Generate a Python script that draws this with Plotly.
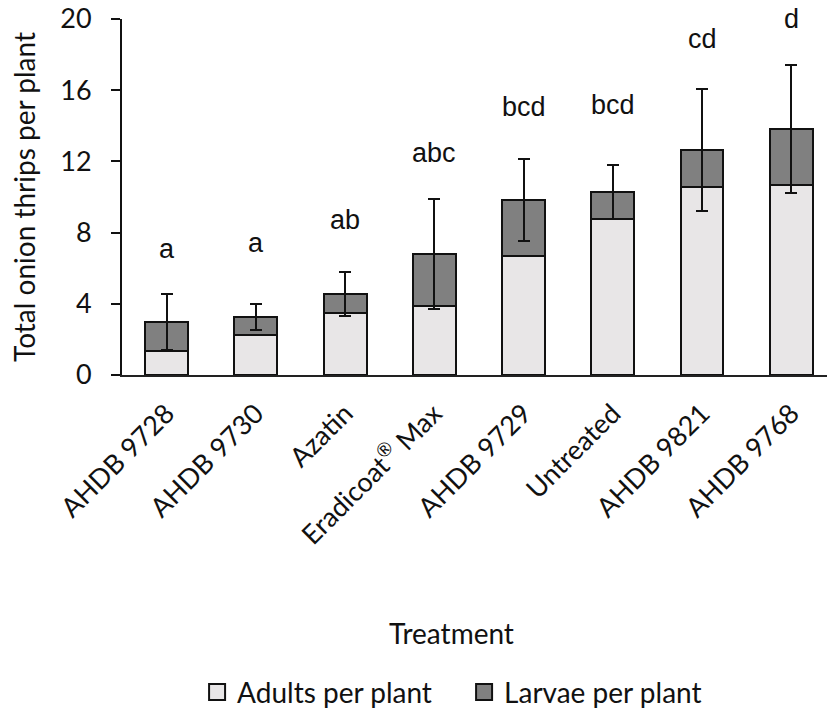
import plotly.graph_objects as go

# Treatments, ordered by total thrips count
treatments = ["AHDB 9728", "AHDB 9730", "Azatin", "Eradicoat<sup>®</sup> Max",
              "AHDB 9729", "Untreated", "AHDB 9821", "AHDB 9768"]

# Mean thrips per plant (stacked: adults at the base, larvae above)
adults = [1.35, 2.22, 3.48, 3.89, 6.67, 8.79, 10.56, 10.67]
larvae = [1.63, 1.04, 1.05, 2.92, 3.16, 1.49, 2.08, 3.14]

# Standard error of the total count
total_err = [1.57, 0.75, 1.23, 3.08, 2.30, 1.53, 3.40, 3.60]

# Significance groupings and the height at which each is written
letters = ["a", "a", "ab", "abc", "bcd", "bcd", "cd", "d"]
letter_y = [7.09, 7.42, 8.70, 12.5, 15.06, 15.18, 18.9, 20.0]

y_ticks = [0, 4, 8, 12, 16, 20]

series_names = ["Adults per plant", "Larvae per plant"]
series_colors = ["#E8E6E7", "#808080"]

label_font = "Lato, 'Open Sans', sans-serif"
letter_font = "'Liberation Sans', Arial, sans-serif"
ink = "#111111"

fig = go.Figure()
fig.add_trace(go.Bar(
    x=treatments, y=adults, name=series_names[0], showlegend=False,
    marker=dict(color=series_colors[0], line=dict(color=ink, width=2)),
))
fig.add_trace(go.Bar(
    x=treatments, y=larvae, name=series_names[1], showlegend=False,
    marker=dict(color=series_colors[1], line=dict(color=ink, width=2)),
    error_y=dict(type="data", array=total_err, color=ink,
                 thickness=2, width=6),
))

# Legend keys: square swatches with a dark outline
for name, col in zip(series_names, series_colors):
    fig.add_trace(go.Scatter(
        x=[None], y=[None], mode="markers", name=name,
        marker=dict(symbol="square", size=20, color=col,
                    line=dict(color=ink, width=2)),
    ))

for t, lab, ly in zip(treatments, letters, letter_y):
    fig.add_annotation(x=t, y=ly, text=lab, showarrow=False,
                       xanchor="center", yanchor="middle",
                       font=dict(family=letter_font, size=27, color=ink))

# x-axis title, centred under the labels
fig.add_annotation(xref="paper", yref="paper", x=0.467, y=-0.725,
                   text="Treatment", showarrow=False,
                   xanchor="center", yanchor="middle",
                   font=dict(family=label_font, size=28, color=ink))

fig.update_layout(
    width=827, height=718,
    margin=dict(l=122, r=0, t=19, b=339),
    paper_bgcolor="white", plot_bgcolor="white",
    barmode="stack", bargap=0.52,
    showlegend=True,
    legend=dict(orientation="h", x=0.1065, xanchor="left",
                y=-0.891, yanchor="middle", itemsizing="trace",
                entrywidth=222,
                font=dict(family=label_font, size=28, color=ink),
                traceorder="normal"),
    xaxis=dict(
        type="category", range=[-0.5, 7.4],
        showline=True, linecolor="#222222", linewidth=2,
        ticks="", tickangle=-45, ticklabelstandoff=10,
        tickfont=dict(family=label_font, size=27, color=ink),
        showgrid=False, zeroline=False,
    ),
    yaxis=dict(
        range=[0, 20], tickvals=y_ticks,
        showline=True, linecolor=ink, linewidth=2,
        ticks="outside", ticklen=9, tickwidth=2, tickcolor=ink,
        ticklabelstandoff=14,
        tickfont=dict(family=label_font, size=27, color=ink),
        showgrid=False, zeroline=False,
        title=dict(text="Total onion thrips per plant", standoff=16,
                   font=dict(family=label_font, size=28, color=ink)),
    ),
)

fig.write_html("out.html")
